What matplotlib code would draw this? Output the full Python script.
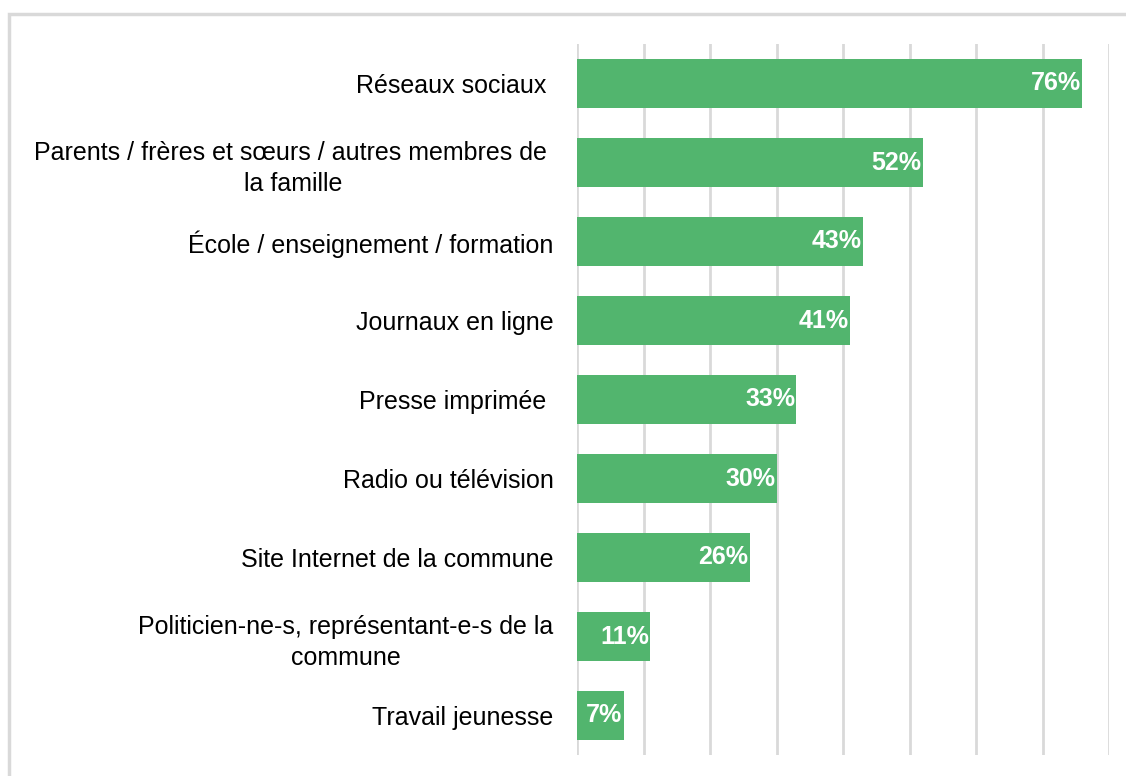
import matplotlib.pyplot as plt
from matplotlib.patches import Rectangle

categories = [
    "Réseaux sociaux ",
    "Parents / frères et sœurs / autres membres de \nla famille",
    "École / enseignement / formation",
    "Journaux en ligne",
    "Presse imprimée ",
    "Radio ou télévision",
    "Site Internet de la commune",
    "Politicien-ne-s, représentant-e-s de la\ncommune",
    "Travail jeunesse",
]
values = [76, 52, 43, 41, 33, 30, 26, 11, 7]

BAR_COLOR = "#52B56E"
GRID_COLOR = "#D9D9D9"

plt.rcParams["font.family"] = ["Liberation Sans", "DejaVu Sans"]

fig = plt.figure(figsize=(11.26, 7.76), dpi=100)
ax = fig.add_axes([577 / 1126, 21 / 776, 532 / 1126, 711 / 776])

# light frame around the chart (top and left edges visible)
frame = Rectangle((8.5 / 1126, -0.1), 1.2, 1.1 - 14.5 / 776,
                  transform=fig.transFigure, fill=False,
                  edgecolor="#D9D9D9", linewidth=2.5)
fig.patches.append(frame)

ypos = list(range(len(categories)))
bars = ax.barh(ypos, values, height=0.62, color=BAR_COLOR, zorder=2)

for bar, v in zip(bars, values):
    ax.text(bar.get_width() - 0.2, bar.get_y() + bar.get_height() / 2,
            f"{v}%", ha="right", va="center", color="white",
            fontsize=18, fontweight="bold", zorder=3)

ax.set_xlim(0, 80)
ax.set_ylim(len(categories) - 0.5, -0.5)
ax.set_xticks(range(0, 81, 10))
ax.set_xticklabels([])
ax.set_yticks(ypos)
ax.set_yticklabels(categories, fontsize=18, multialignment="center",
                   linespacing=1.35)
ax.tick_params(axis="both", length=0)
ax.tick_params(axis="y", pad=17)
ax.grid(axis="x", color=GRID_COLOR, linewidth=2, zorder=0)
ax.set_axisbelow(True)
for s in ax.spines.values():
    s.set_visible(False)

fig.savefig("out.png", dpi=100)
